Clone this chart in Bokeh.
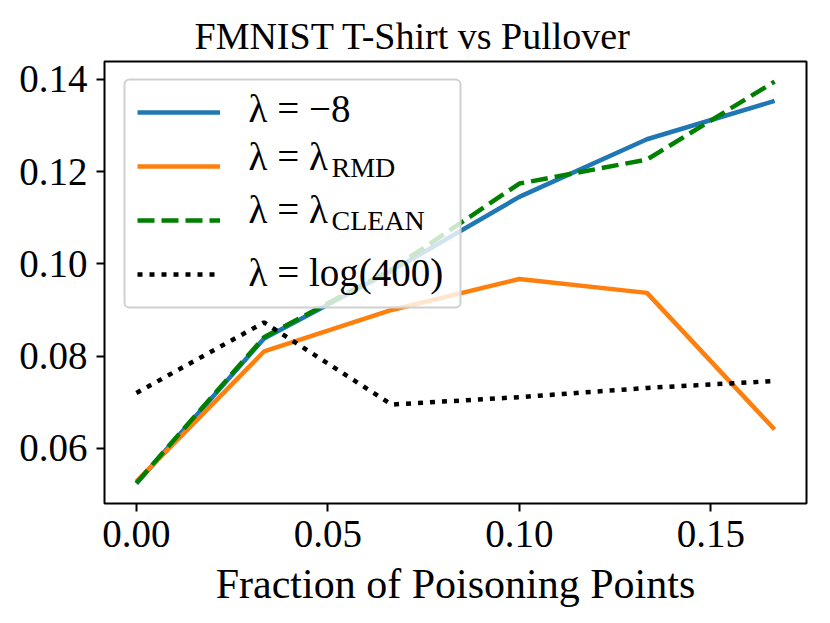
from bokeh.plotting import figure
from bokeh.models import Range1d, FixedTicker, Legend, LegendItem, Label, BoxAnnotation
from bokeh.embed import file_html
from bokeh.resources import INLINE

# ---- data ----
x_frac = [0.0, 1 / 30, 2 / 30, 3 / 30, 4 / 30, 5 / 30]
lam_neg8 = [0.0524, 0.0838, 0.0985, 0.1145, 0.1270, 0.1353]
lam_rmd = [0.0528, 0.0810, 0.0900, 0.0967, 0.0937, 0.0641]
lam_clean = [0.0525, 0.0841, 0.0988, 0.1174, 0.1226, 0.1395]
lam_log400 = [0.0720, 0.0873, 0.0695, 0.0711, 0.0731, 0.0746]

series_labels = ["λ = −8", "λ = λ", "λ = λ", "λ = log(400)"]
series_subscripts = ["", "RMD", "CLEAN", ""]
series_colors = ["#1f77b4", "#ff7f0e", "#008000", "#000000"]
series_dash = ["solid", "solid", "17 7", "5 7"]

x_ticks = [0.0, 0.05, 0.10, 0.15]
x_tick_labels = ["0.00", "0.05", "0.10", "0.15"]
y_ticks = [0.06, 0.08, 0.10, 0.12, 0.14]
y_tick_labels = ["0.06", "0.08", "0.10", "0.12", "0.14"]

title_text = "FMNIST T-Shirt vs Pullover"
x_label = "Fraction of Poisoning Points"

FONT = "Liberation Serif"

# ranges with 5% margins like matplotlib
all_y = lam_neg8 + lam_rmd + lam_clean + lam_log400
ymin, ymax = min(all_y), max(all_y)
xmin, xmax = min(x_frac), max(x_frac)
ypad = 0.05 * (ymax - ymin)
xpad = 0.05 * (xmax - xmin)

FW, FH = 702, 442
p = figure(
    frame_width=FW, frame_height=FH,
    min_border_left=104, min_border_right=8,
    min_border_top=61, min_border_bottom=104,
    x_range=Range1d(xmin - xpad, xmax + xpad),
    y_range=Range1d(ymin - ypad, ymax + ypad),
    output_backend="svg", toolbar_location=None,
)

p.title.text = title_text
p.title.text_font = FONT
p.title.text_font_size = "38px"
p.title.text_font_style = "normal"
p.title.text_color = "black"
p.title.align = "left"
p.title.offset = 90
p.title.standoff = 9

p.grid.visible = False
p.outline_line_color = "black"
p.outline_line_width = 2
p.outline_line_alpha = 1.0

for ax in (p.xaxis[0], p.yaxis[0]):
    ax.axis_line_color = None
    ax.major_tick_line_color = "black"
    ax.major_tick_line_width = 2
    ax.major_tick_out = 8
    ax.major_tick_in = 0
    ax.minor_tick_line_color = None
    ax.major_label_text_font = FONT
    ax.major_label_text_font_size = "39px"
    ax.major_label_text_color = "black"

p.xaxis.ticker = FixedTicker(ticks=x_ticks)
p.yaxis.ticker = FixedTicker(ticks=y_ticks)
p.xaxis.major_label_overrides = dict(zip(x_ticks, x_tick_labels))
p.yaxis.major_label_overrides = dict(zip(y_ticks, y_tick_labels))
p.xaxis.major_label_standoff = 9
p.yaxis.major_label_standoff = 9

p.xaxis.axis_label = x_label
p.xaxis.axis_label_text_font = FONT
p.xaxis.axis_label_text_font_size = "42px"
p.xaxis.axis_label_text_font_style = "normal"
p.xaxis.axis_label_text_color = "black"
p.xaxis.axis_label_standoff = 11

series = [lam_neg8, lam_rmd, lam_clean, lam_log400]
items = []
for ys, col, dash in zip(series, series_colors, series_dash):
    r = p.line(x_frac, ys, line_color=col, line_width=4.5, line_dash=dash)
    items.append(LegendItem(label=" ", renderers=[r]))

# legend box geometry (screen px, relative to the frame)
LG_PAD, LG_H, LG_SP = 13, 40, 14
LG_X, LG_Y = 20, 196
LG_W = 336
LG_TOT = 2 * LG_PAD + 4 * LG_H + 3 * LG_SP

# translucent legend frame (drawn over the lines, under the legend texts)
p.add_layout(BoxAnnotation(
    left=LG_X, right=LG_X + LG_W, bottom=LG_Y, top=LG_Y + LG_TOT,
    left_units="screen", right_units="screen",
    bottom_units="screen", top_units="screen",
    fill_color="white", fill_alpha=0.8,
    line_color="#d0d0d0", line_width=2, line_alpha=1.0,
    border_radius=5, level="annotation",
))

# legend line samples (no own frame; padding is placed by hand)
legend = Legend(
    items=items,
    location=(LG_X + LG_PAD, LG_Y + LG_PAD),
    orientation="vertical",
    label_text_font=FONT,
    label_text_font_size="10px",
    glyph_width=83, glyph_height=LG_H,
    label_height=LG_H, label_width=200, label_standoff=27,
    spacing=LG_SP, padding=0, margin=0,
    border_line_color=None,
    background_fill_alpha=0.0,
)
p.add_layout(legend, "center")

# legend texts as labels drawn above the legend frame
text_x = 144
sub_x = 227
baselines = [395, 347, 294, 231]
sub_drop = [0, 11, 11, 0]
for lab, sub, by, dr in zip(series_labels, series_subscripts, baselines, sub_drop):
    p.add_layout(Label(
        x=text_x, y=by, x_units="screen", y_units="screen",
        text=lab, text_font=FONT, text_font_size="39px",
        text_color="black", text_baseline="alphabetic", text_align="left",
        level="overlay",
    ))
    if sub:
        p.add_layout(Label(
            x=sub_x, y=by - dr, x_units="screen", y_units="screen",
            text=sub, text_font=FONT, text_font_size="28px",
            text_color="black", text_baseline="alphabetic", text_align="left",
            level="overlay",
        ))

open("out.html", "w").write(file_html(p, INLINE))
